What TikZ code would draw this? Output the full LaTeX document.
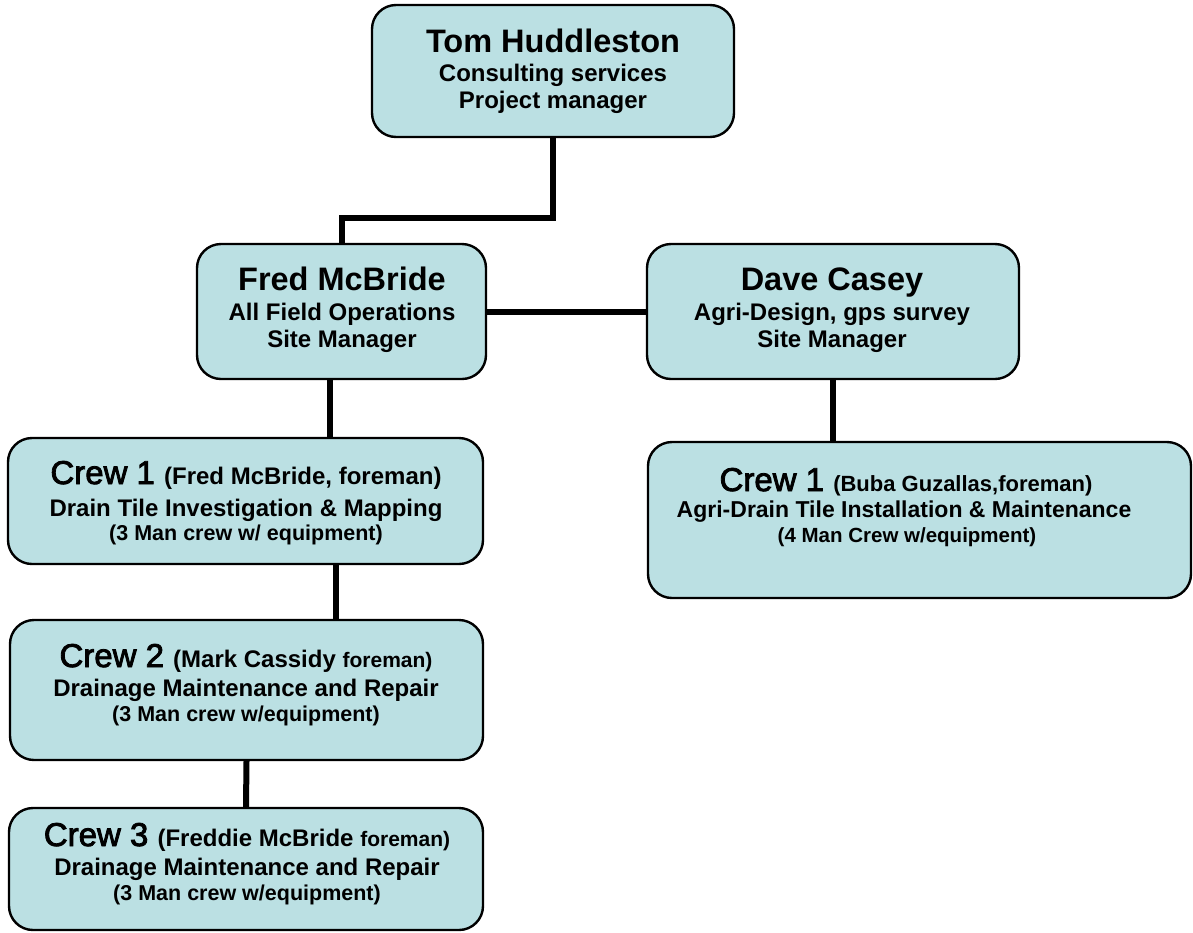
\documentclass[tikz,border=0pt]{standalone}
\usepackage{fontspec}
\setmainfont{Liberation Sans}
\newfontfamily\crewfam{Liberation Sans}[FakeBold=2.5]
\usepackage{tikz}
\usetikzlibrary{positioning}
\usepackage{xcolor}
\definecolor{boxfill}{RGB}{187,224,227}

\newcommand\crewfont{\crewfam\fontsize{33}{38}\selectfont}
\newcommand\namefont{\normalfont\bfseries\fontsize{24}{28}\selectfont}
\newcommand\forefont{\bfseries\fontsize{21}{25}\selectfont}

\tikzset{
  box/.style={draw=black, line width=2.4pt, fill=boxfill, rounded corners=24pt, inner sep=0pt},
  link/.style={line width=6pt},
  big/.style={font=\bfseries\fontsize{32.5}{36}\selectfont, anchor=base, inner sep=0pt},
  mid/.style={font=\bfseries\fontsize{24}{28}\selectfont, anchor=base, inner sep=0pt},
  sml/.style={font=\bfseries\fontsize{21.5}{25}\selectfont, anchor=base, inner sep=0pt},
  hd/.style={anchor=base, inner sep=0pt},
}

\begin{document}
\begin{tikzpicture}[x=1pt,y=-1pt]
  \useasboundingbox (0,0) rectangle (1193,932);

% boxes
\node[box, minimum width=362pt, minimum height=132pt] (tom) at (553,71) {};
\node[box, minimum width=289pt, minimum height=135pt] (fred) at (341.5,311.5) {};
\node[box, minimum width=372pt, minimum height=135pt] (dave) at (833,311.5) {};
\node[box, minimum width=475pt, minimum height=126pt] (crewa) at (245.5,501) {};
\node[box, minimum width=473pt, minimum height=140pt] (crewb) at (246.5,690) {};
\node[box, minimum width=474pt, minimum height=122pt] (crewc) at (246,869) {};
\node[box, minimum width=543pt, minimum height=156pt] (crewd) at (919.5,520) {};

% connectors
\coordinate (bend) at (553,218);
\draw[link] (tom.south) -- (bend) -| (fred.north);
\draw[link] (fred.east) -- (dave.west);
\draw[link] (fred.south) ++(-11.5,0) coordinate (fa) -- (fa |- crewa.north);
\draw[link] (crewa.south) ++(90.5,0) coordinate (ca) -- (ca |- crewb.north);
\draw[link] (crewb.south) -- (crewc.north);
\draw[link] (dave.south) -- (dave.south |- crewd.north);

% texts
\node[big] (tom1) at (553,52) {Tom Huddleston};
\node[mid] (tom2) at (553,81) {Consulting services};
\node[mid] (tom3) at (553,108) {Project manager};

\node[big] (fred1) at (342,290) {Fred McBride};
\node[mid] (fred2) at (342,320) {All Field Operations};
\node[mid] (fred3) at (342,347) {Site Manager};

\node[big] (dave1) at (832,290) {Dave Casey};
\node[mid] (dave2) at (832,320) {Agri-Design, gps survey};
\node[mid] (dave3) at (832,347) {Site Manager};

\node[hd] (crewa1) at (246,484) {\crewfont Crew 1 \namefont(Fred McBride, foreman)};
\node[mid] (crewa2) at (246,516) {Drain Tile Investigation \& Mapping};
\node[sml] (crewa3) at (246,540) {(3 Man crew w/ equipment)};

\node[hd] (crewb1) at (246,667) {\crewfont Crew 2 \namefont(Mark Cassidy \forefont foreman)};
\node[mid] (crewb2) at (246,696) {Drainage Maintenance and Repair};
\node[sml] (crewb3) at (246,721) {(3 Man crew w/equipment)};

\node[hd] (crewc1) at (247,846) {\crewfont Crew 3 \namefont(Freddie McBride \forefont foreman)};
\node[mid] (crewc2) at (247,875) {Drainage Maintenance and Repair};
\node[sml] (crewc3) at (247,900) {(3 Man crew w/equipment)};

\node[hd] (crewd1) at (906,491) {\crewfont Crew 1 {\normalfont\bfseries\fontsize{22}{26}\selectfont(Buba Guzallas,foreman)}};
\node[mid, font=\bfseries\fontsize{23}{27}\selectfont] (crewd2) at (904,517) {Agri-Drain Tile Installation \& Maintenance};
\node[sml, font=\bfseries\fontsize{20.5}{24}\selectfont] (crewd3) at (907,542) {(4 Man Crew w/equipment)};

\end{tikzpicture}
\end{document}
